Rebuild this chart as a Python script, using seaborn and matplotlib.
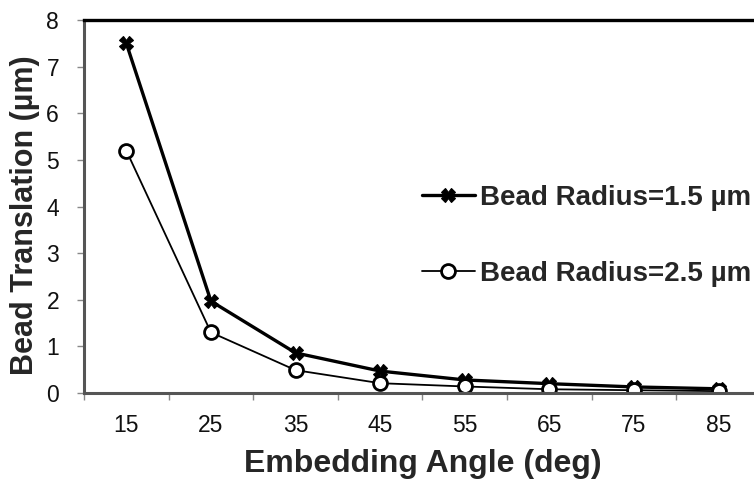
import matplotlib
matplotlib.use("Agg")
import matplotlib.pyplot as plt
import seaborn as sns
import pandas as pd
from matplotlib.ticker import FixedLocator

# Embedding angle (deg) and bead translation (um) for two bead radii
angles = [15, 25, 35, 45, 55, 65, 75, 85]
translation_r15 = [7.5, 1.97, 0.86, 0.47, 0.28, 0.20, 0.13, 0.09]
translation_r25 = [5.2, 1.30, 0.49, 0.21, 0.14, 0.08, 0.06, 0.04]
series_labels = ["Bead Radius=1.5 \u00b5m", "Bead Radius=2.5 \u00b5m"]
y_ticks = [0, 1, 2, 3, 4, 5, 6, 7, 8]

sns.set_theme(style="white")
plt.rcParams["font.family"] = ["Liberation Sans", "DejaVu Sans"]

df1 = pd.DataFrame({"angle": angles, "value": translation_r15})
df2 = pd.DataFrame({"angle": angles, "value": translation_r25})

fig = plt.figure(figsize=(7.54, 4.87), dpi=100)
ax = fig.add_axes([84 / 754, 94 / 487, 677 / 754, 373 / 487])

sns.lineplot(data=df1, x="angle", y="value", ax=ax, color="black",
             linewidth=2.4, marker="X", markersize=10, markeredgewidth=0.8,
             markerfacecolor="black", markeredgecolor="black",
             label=series_labels[0])
sns.lineplot(data=df2, x="angle", y="value", ax=ax, color="black",
             linewidth=1.3, marker="o", markersize=10, markeredgewidth=2.0,
             markerfacecolor="white", markeredgecolor="black",
             label=series_labels[1])

ax.set_xlim(10, 90)
ax.set_ylim(0, 8)
ax.set_xticks(angles)
ax.set_xticklabels([str(a) for a in angles], fontsize=16.5, color="#111111")
ax.xaxis.set_minor_locator(FixedLocator(list(range(10, 91, 10))))
ax.set_yticks(y_ticks)
ax.set_yticklabels([str(t) for t in y_ticks], fontsize=16.5, color="#111111")

ax.tick_params(axis="x", which="major", length=0, pad=15)
ax.tick_params(axis="x", which="minor", length=5, width=1.0, color="#888888",
               direction="out", bottom=True)
ax.tick_params(axis="y", which="major", length=5, width=1.0, color="#888888",
               direction="out", left=True, pad=13)

ax.spines["top"].set_color("black")
ax.spines["top"].set_linewidth(2.4)
ax.spines["right"].set_visible(False)
for side in ("left", "bottom"):
    ax.spines[side].set_color("#555555")
    ax.spines[side].set_linewidth(2.2)

ax.set_xlabel("Embedding Angle (deg)", fontsize=23, fontweight="bold",
              labelpad=9)
ax.set_ylabel("Bead Translation (\u00b5m)", fontsize=22, fontweight="bold")
ax.yaxis.set_label_coords(-0.065, 0.477)

ax.legend(loc="center left", bbox_to_anchor=(397 / 754, 0.515),
          bbox_transform=fig.transFigure, frameon=False,
          prop={"family": ["Liberation Sans", "DejaVu Sans"],
                "weight": "bold", "size": 20},
          handlelength=1.9, handletextpad=0.2, labelspacing=1.8,
          borderpad=0.4)

fig.savefig("out.png", dpi=100)
